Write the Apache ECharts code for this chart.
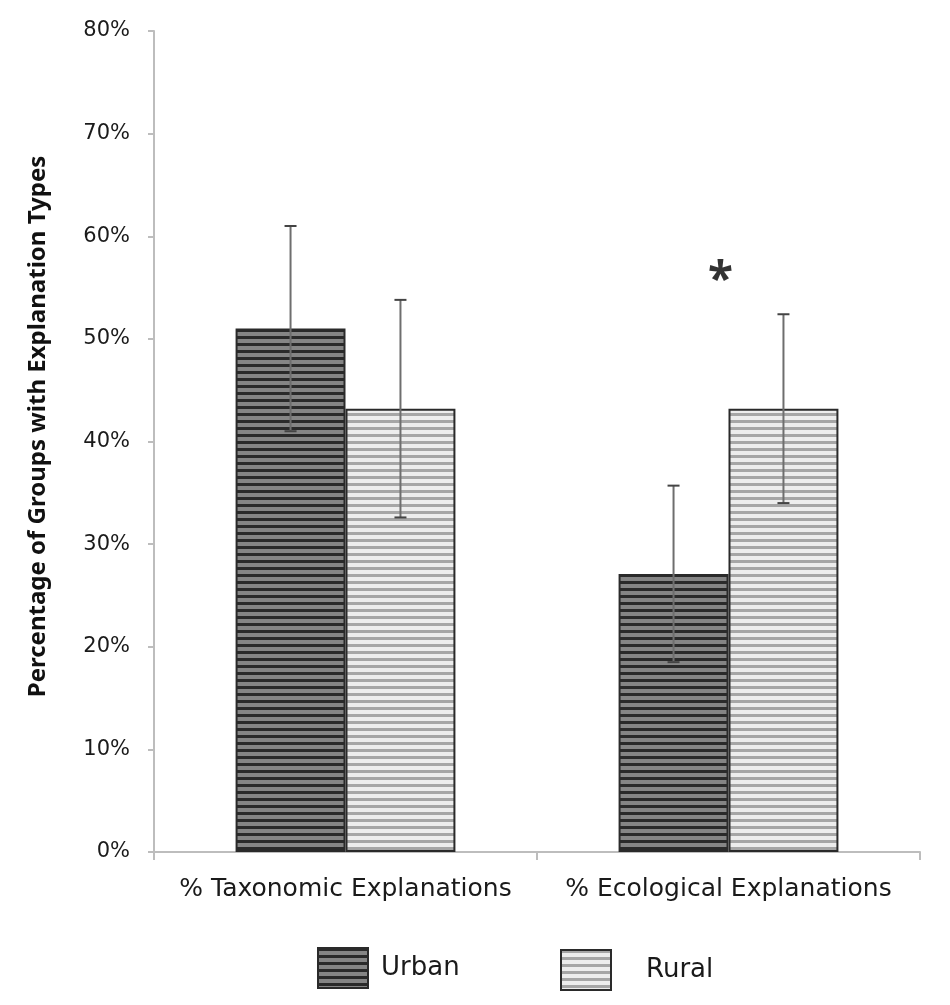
<!DOCTYPE html>
<html>
<head>
<meta charset="utf-8">
<script src="https://cdn.jsdelivr.net/npm/echarts@6/dist/echarts.min.js"></script>
<style>
  html, body { margin: 0; padding: 0; background: #fff; }
  #chart { width: 950px; height: 1005px; }
</style>
</head>
<body>
<div id="chart"></div>
<script>
const categories = ["% Taxonomic Explanations", "% Ecological Explanations"];
const urbanValues = [51, 27.1];
const ruralValues = [43.2, 43.2];
const urbanErrors = [10, 8.6];
const ruralErrors = [10.6, 9.2];
const yTicks = [0, 10, 20, 30, 40, 50, 60, 70, 80];
const starPoint = [1, 55.6];

// striped fill, like the old excel pattern fills
function stripes(bg, line) {
  const c = document.createElement("canvas");
  c.width = 8;
  c.height = 7;
  const ctx = c.getContext("2d");
  ctx.fillStyle = bg;
  ctx.fillRect(0, 0, 8, 7);
  ctx.fillStyle = line;
  ctx.fillRect(0, 0, 8, 3);
  return { image: c, repeat: "repeat" };
}

const urbanFill = stripes("#858585", "#2a2a2a");
const ruralFill = stripes("#ededed", "#a6a6a6");
const barPct = 0.287;
const font = "DejaVu Sans";

function errorBars(values, errors, side) {
  return {
    type: "custom",
    silent: true,
    z: 10,
    data: values.map((v, i) => [i, v, errors[i]]),
    renderItem: function (params, api) {
      const i = api.value(0);
      const v = api.value(1);
      const e = api.value(2);
      const catW = api.size([1, 0])[0];
      const dx = side * catW * barPct / 2;
      const top = api.coord([i, v + e]);
      const bot = api.coord([i, v - e]);
      const x = top[0] + dx;
      const cap = 6;
      const capStyle = { stroke: "#444", lineWidth: 2 };
      return {
        type: "group",
        children: [
          { type: "line", shape: { x1: x, y1: top[1], x2: x, y2: bot[1] }, style: { stroke: "#6e6e6e", lineWidth: 2 } },
          { type: "line", shape: { x1: x - cap, y1: top[1], x2: x + cap, y2: top[1] }, style: capStyle },
          { type: "line", shape: { x1: x - cap, y1: bot[1], x2: x + cap, y2: bot[1] }, style: capStyle },
        ],
      };
    },
  };
}

const myChart = echarts.init(document.getElementById("chart"));

const option = {
  animation: false,
  backgroundColor: "#fff",
  grid: { left: 154, right: 30, top: 31, bottom: 153 },
  legend: [
    {
      data: ["Urban"],
      icon: "rect",
      left: 317,
      top: 947,
      padding: 0,
      itemWidth: 50,
      itemHeight: 40,
      textStyle: { fontFamily: font, fontSize: 26, color: "#1a1a1a", padding: [0, 0, 0, 8] },
    },
    {
      data: ["Rural"],
      icon: "rect",
      left: 560,
      top: 949,
      padding: 0,
      itemWidth: 50,
      itemHeight: 40,
      textStyle: { fontFamily: font, fontSize: 26, color: "#1a1a1a", padding: [0, 0, 0, 30] },
    },
  ],
  xAxis: {
    type: "category",
    data: categories,
    axisLine: { lineStyle: { color: "#bdbdbd", width: 2 } },
    axisTick: { show: true, interval: 0, length: 8, lineStyle: { color: "#bdbdbd", width: 2 } },
    axisLabel: { interval: 0, fontFamily: font, fontSize: 25, color: "#1a1a1a", margin: 25 },
  },
  yAxis: {
    type: "value",
    min: yTicks[0],
    max: yTicks[yTicks.length - 1],
    interval: 10,
    name: "Percentage of Groups with Explanation Types",
    nameLocation: "middle",
    nameGap: 104,
    nameTextStyle: {
      fontFamily: "Noto Sans",
      fontSize: 24,
      fontWeight: "bold",
      color: "#111",
      padding: [0, 0, 0, 30],
    },
    axisLine: { show: true, lineStyle: { color: "#bdbdbd", width: 2 } },
    axisTick: { show: true, length: 6, lineStyle: { color: "#bdbdbd", width: 2 } },
    splitLine: { show: false },
    axisLabel: {
      fontFamily: font,
      fontSize: 21,
      color: "#1a1a1a",
      margin: 24,
      formatter: (v) => v + "%",
    },
  },
  series: [
    {
      name: "Urban",
      type: "bar",
      data: urbanValues,
      barWidth: "28.7%",
      barGap: "0%",
      itemStyle: { color: urbanFill, borderColor: "#2a2a2a", borderWidth: 2 },
    },
    {
      name: "Rural",
      type: "bar",
      data: ruralValues,
      barWidth: "28.7%",
      itemStyle: { color: ruralFill, borderColor: "#2a2a2a", borderWidth: 2 },
    },
    errorBars(urbanValues, urbanErrors, -1),
    errorBars(ruralValues, ruralErrors, 1),
    {
      type: "scatter",
      silent: true,
      symbolSize: 0,
      data: [starPoint],
      label: {
        show: true,
        position: "inside",
        offset: [-8, 0],
        formatter: "*",
        fontFamily: "Noto Sans",
        fontSize: 46,
        fontWeight: "bold",
        color: "#000",
      },
    },
  ],
};

option && myChart.setOption(option);
</script>
</body>
</html>
